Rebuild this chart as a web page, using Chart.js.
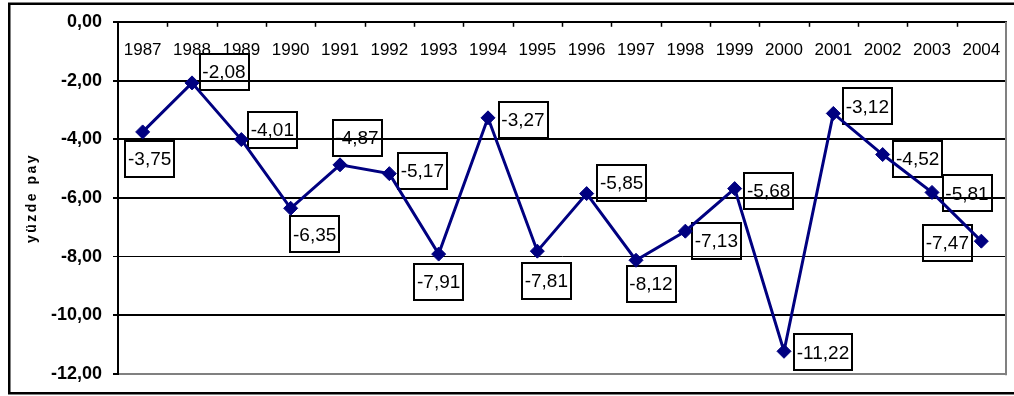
<!DOCTYPE html>
<html>
<head>
<meta charset="utf-8">
<script src="https://cdn.jsdelivr.net/npm/chart.js@4/dist/chart.umd.min.js"></script>
<style>
  html, body { margin: 0; padding: 0; background: #fff; }
</style>
</head>
<body>
<canvas id="c" width="1014" height="396"></canvas>
<script>
// Yearly share (%) 1987-2004
const years = ['1987', '1988', '1989', '1990', '1991', '1992', '1993', '1994', '1995',
               '1996', '1997', '1998', '1999', '2000', '2001', '2002', '2003', '2004'];
const shares = [-3.75, -2.08, -4.01, -6.35, -4.87, -5.17, -7.91, -3.27, -7.81,
                -5.85, -8.12, -7.13, -5.68, -11.22, -3.12, -4.52, -5.81, -7.47];
const yMin = -12;
const yMax = 0;
const yStep = 2;
const axisTitle = 'yüzde pay';

// where each value box sits relative to its point (dx, dy in px)
const labelOffsets = [
  [7, 27], [32, -11], [31, -10], [24, 26], [17, -27], [33, -3], [0, 28], [35, 2], [9, 30],
  [35, -11], [15, 24], [31, 10], [34, 2], [39, 1], [34, -7], [35, 4], [35, 1], [-34, 2]
];

const FONT = "'Liberation Sans', Arial, sans-serif";
const fmt = v => v.toFixed(2).replace('.', ',');

// outer frame around the whole figure
const framePlugin = {
  id: 'frame',
  beforeDraw(chart) {
    const ctx = chart.ctx;
    ctx.save();
    ctx.fillStyle = '#fff';
    ctx.fillRect(0, 0, chart.width, chart.height);
    ctx.strokeStyle = '#000';
    ctx.lineWidth = 2.5;
    ctx.strokeRect(9.25, 3.75, chart.width + 20, 389.5);
    ctx.restore();
  }
};

// gray right edge of the plot area, category labels and tick marks under the top axis,
// and the boxed value labels
const plotExtras = {
  id: 'plotExtras',
  beforeDatasetsDraw(chart) {
    const ctx = chart.ctx;
    const { top, right, bottom } = chart.chartArea;
    const xs = chart.scales.x;
    ctx.save();

    ctx.strokeStyle = '#808080';
    ctx.lineWidth = 2;
    ctx.beginPath();
    ctx.moveTo(right, top);
    ctx.lineTo(right, bottom + 1);
    ctx.stroke();

    const n = years.length;
    const step = xs.getPixelForValue(1) - xs.getPixelForValue(0);
    ctx.strokeStyle = '#000';
    ctx.lineWidth = 1.5;
    for (let i = 1; i < n; i++) {
      const bx = Math.round(xs.getPixelForValue(i) - step / 2) + 0.5;
      ctx.beginPath();
      ctx.moveTo(bx, top);
      ctx.lineTo(bx, top + 5);
      ctx.stroke();
    }

    ctx.fillStyle = '#000';
    ctx.font = '17px ' + FONT;
    ctx.textAlign = 'center';
    ctx.textBaseline = 'middle';
    for (let i = 0; i < n; i++) {
      ctx.fillText(years[i], xs.getPixelForValue(i), top + 29);
    }

    const meta = chart.getDatasetMeta(0);
    ctx.font = '19px ' + FONT;
    ctx.lineWidth = 2;
    meta.data.forEach((pt, i) => {
      const txt = fmt(shares[i]);
      const w = Math.round(ctx.measureText(txt).width + 6);
      const h = 36;
      const cx = pt.x + labelOffsets[i][0];
      const cy = pt.y + labelOffsets[i][1];
      ctx.strokeRect(Math.round(cx - w / 2), Math.round(cy - h / 2), w, h);
      ctx.fillText(txt, cx, cy + 1);
    });
    ctx.restore();
  },
  afterDraw(chart) {
    const ctx = chart.ctx;
    const { top, bottom } = chart.chartArea;
    ctx.save();
    ctx.translate(32, (top + bottom) / 2);
    ctx.rotate(-Math.PI / 2);
    ctx.fillStyle = '#000';
    ctx.font = 'bold 14px ' + FONT;
    ctx.letterSpacing = '2.5px';
    ctx.textAlign = 'center';
    ctx.textBaseline = 'middle';
    ctx.fillText(axisTitle, 0, 0);
    ctx.restore();
  }
};

new Chart(document.getElementById('c'), {
  type: 'line',
  data: {
    labels: years,
    datasets: [{
      data: shares,
      borderColor: '#000080',
      backgroundColor: '#000080',
      borderWidth: 3,
      pointStyle: 'rectRot',
      pointRadius: 7,
      pointBorderWidth: 1,
      pointBackgroundColor: '#000080',
      pointBorderColor: '#000080',
      tension: 0,
      fill: false
    }]
  },
  options: {
    responsive: false,
    animation: false,
    devicePixelRatio: 1,
    layout: { padding: { left: 0, top: 18, right: 3, bottom: 19 } },
    plugins: {
      legend: { display: false },
      tooltip: { enabled: false }
    },
    scales: {
      x: {
        position: 'top',
        offset: true,
        grid: { drawOnChartArea: false, drawTicks: false },
        border: { display: true, color: '#000', width: 2 },
        ticks: { display: false },
        afterFit(scale) { scale.height = 0; }
      },
      y: {
        min: yMin,
        max: yMax,
        grid: {
          color: c => (c.tick && c.tick.value === yMin) ? '#808080' : '#000',
          lineWidth: c => (c.tick && c.tick.value === -8) ? 1 : 2,
          tickColor: '#000',
          tickLength: 5,
          drawTicks: true
        },
        border: { display: true, color: '#000', width: 2 },
        ticks: {
          stepSize: yStep,
          padding: 11,
          color: '#000',
          font: { family: FONT, size: 18, weight: 'bold' },
          callback: v => fmt(v)
        },
        afterFit(scale) { scale.width = 118; }
      }
    }
  },
  plugins: [framePlugin, plotExtras]
});
</script>
</body>
</html>
